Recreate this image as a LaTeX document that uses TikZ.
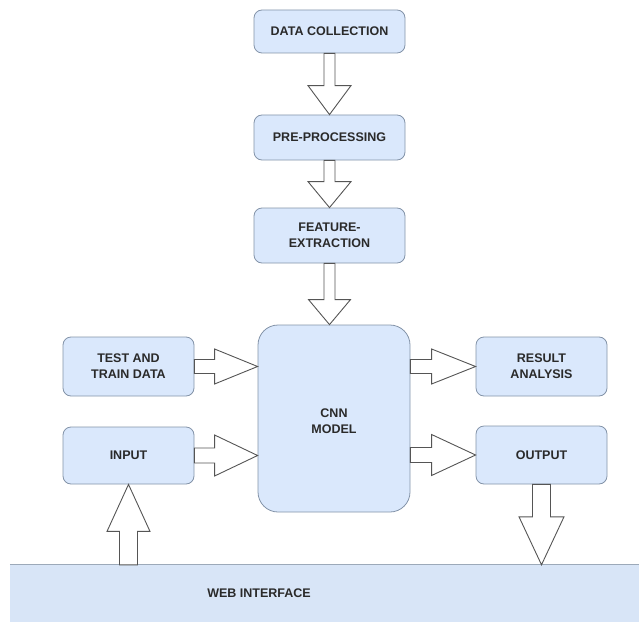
\documentclass[tikz,border=0pt]{standalone}
\usepackage{fontspec}
\setmainfont{Liberation Sans}
\usetikzlibrary{calc}
\definecolor{boxfill}{HTML}{DAE8FC}
\definecolor{boxline}{HTML}{8393A8}
\definecolor{webfill}{HTML}{D8E5F7}
\definecolor{arrline}{HTML}{555555}
\definecolor{txt}{HTML}{2A2A2A}
\tikzset{
  box/.style={draw=boxline, fill=boxfill, line width=0.8pt, rounded corners=8pt,
    align=center, text=txt, font=\bfseries\fontsize{12.5}{16}\selectfont, inner sep=0pt},
  blockarr/.style={draw=arrline, fill=white, line width=0.9pt, line join=miter},
  webbox/.style={fill=webfill, inner sep=0pt},
  webline/.style={draw=boxline!80, line width=1pt}
}
\newcommand\blockarrow[5]{%
  \coordinate (ba-h) at ($(#2)!#5!(#1)$);
  \draw[blockarr] ($(#1)!#3!90:(#2)$) -- ($(ba-h)!#3!90:(#2)$) -- ($(ba-h)!#4!90:(#2)$)
     -- (#2) -- ($(ba-h)!#4!-90:(#2)$) -- ($(ba-h)!#3!-90:(#2)$) -- ($(#1)!#3!-90:(#2)$) -- cycle;
}
\begin{document}
\begin{tikzpicture}[x=1pt,y=-1pt]
\useasboundingbox (0,0) rectangle (639,623);
% boxes
\node[box, minimum width=151pt, minimum height=43pt] (dc) at (329.5,31.5) {DATA COLLECTION};
\node[box, minimum width=151pt, minimum height=45pt] (pp) at (329.5,137.5) {PRE-PROCESSING};
\node[box, minimum width=151pt, minimum height=55pt] (fe) at (329.5,235.5) {FEATURE-\\EXTRACTION};
\node[box, minimum width=152pt, minimum height=187pt, rounded corners=20pt] (cnn) at (334,418.5) {\\[-2pt]CNN\\MODEL};
\node[box, minimum width=131pt, minimum height=59pt] (tt) at (128.5,366.5) {TEST AND\\TRAIN DATA};
\node[box, minimum width=131pt, minimum height=57pt] (in) at (128.5,455.5) {INPUT};
\node[box, minimum width=131pt, minimum height=59pt] (ra) at (541.5,366.5) {RESULT\\ANALYSIS};
\node[box, minimum width=131pt, minimum height=58pt] (out) at (541.5,455) {OUTPUT};
\node[webbox, minimum width=629pt, minimum height=57pt] (web) at (324.5,593.5) {};
\draw[webline] (web.north west) -- (web.north east);
\node[text=txt, font=\bfseries\fontsize{12.5}{14}\selectfont] (webtxt) at (259,593) {WEB INTERFACE};
% connector end points
\coordinate (fe-c) at (fe.south |- cnn.north);
\coordinate (tt-c) at (tt.east -| cnn.west);
\coordinate (in-c) at (in.east -| cnn.west);
\coordinate (c-ra) at (ra.west -| cnn.east);
\coordinate (c-out) at (out.west -| cnn.east);
\coordinate (web-in) at (in.south |- web.north);
\coordinate (out-web) at (out.south |- web.north);
% block arrows
\blockarrow{dc.south}{pp.north}{5.5pt}{21.5pt}{29pt}
\blockarrow{pp.south}{fe.north}{5.5pt}{21.5pt}{26pt}
\blockarrow{fe.south}{fe-c}{5.5pt}{21pt}{25pt}
\blockarrow{tt.east}{tt-c}{7pt}{17.5pt}{43pt}
\blockarrow{in.east}{in-c}{7.5pt}{20.5pt}{43pt}
\blockarrow{c-ra}{ra.west}{7pt}{17.5pt}{44pt}
\blockarrow{c-out}{out.west}{7.5pt}{20.5pt}{44pt}
\blockarrow{web-in}{in.south}{9pt}{21.5pt}{47pt}
\blockarrow{out.south}{out-web}{9pt}{22.5pt}{48pt}
\end{tikzpicture}
\end{document}
